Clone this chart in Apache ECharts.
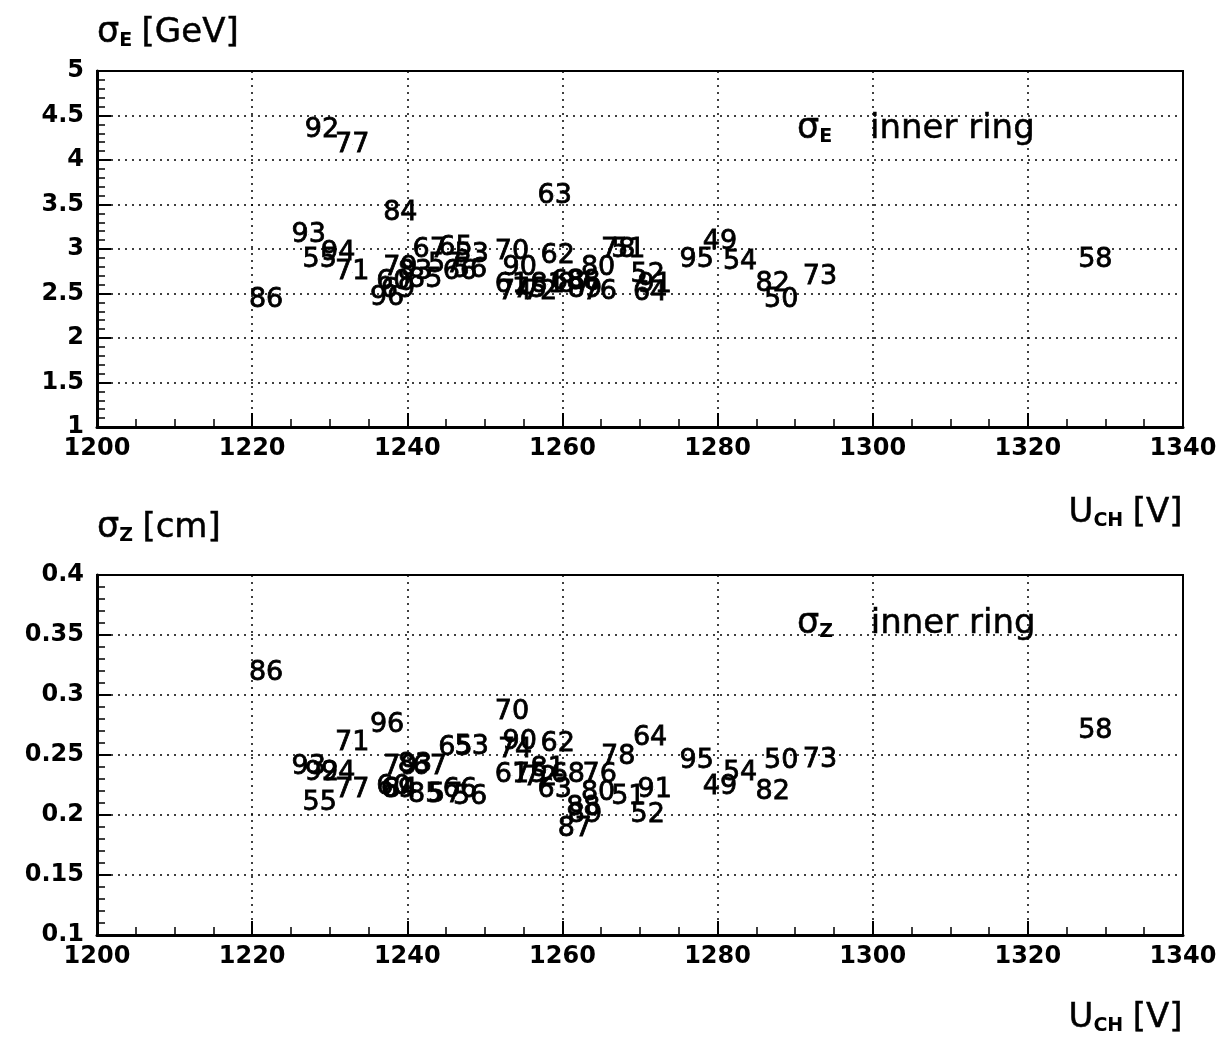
<!DOCTYPE html>
<html>
<head>
<meta charset="utf-8">
<script src="https://cdn.jsdelivr.net/npm/echarts@6/dist/echarts.min.js"></script>
<style>
html,body{margin:0;padding:0;background:#fff;}
#chart{width:1224px;height:1037px;}
</style>
</head>
<body>
<div id="chart"></div>
<script>
// Run numbers and their values (label centres)
const runs    = [49,50,51,52,53,54,55,56,57,58,60,61,62,63,64,65,66,67,68,69,70,71,72,73,74,75,76,77,78,79,80,81,82,83,84,85,86,87,88,89,90,91,92,93,94,95,96];
const voltage = [1280.3,1288.2,1268.5,1271.0,1248.3,1282.9,1228.7,1248.1,1244.9,1328.7,1238.2,1253.5,1259.4,1259.0,1271.3,1246.2,1246.8,1242.9,1260.7,1238.8,1253.5,1232.9,1257.1,1293.2,1253.9,1255.8,1264.8,1232.9,1267.2,1239.1,1264.6,1258.1,1287.1,1241.0,1239.1,1242.3,1221.8,1261.6,1262.7,1262.9,1254.5,1271.9,1229.0,1227.3,1231.1,1277.3,1237.4];
const sigmaE  = [3.08,2.43,2.99,2.71,2.93,2.85,2.88,2.76,2.82,2.88,2.63,2.60,2.92,3.60,2.51,3.01,2.74,2.99,2.63,2.54,2.97,2.74,2.52,2.69,2.52,2.54,2.52,4.17,2.99,2.79,2.79,2.60,2.61,2.74,3.40,2.65,2.43,2.60,2.63,2.54,2.79,2.60,4.34,3.16,2.96,2.88,2.45];
const sigmaZ  = [0.223,0.245,0.215,0.200,0.257,0.235,0.210,0.215,0.217,0.270,0.223,0.233,0.259,0.221,0.264,0.256,0.221,0.240,0.233,0.221,0.286,0.260,0.231,0.246,0.254,0.233,0.233,0.221,0.248,0.240,0.218,0.238,0.219,0.242,0.221,0.217,0.318,0.188,0.206,0.200,0.261,0.221,0.235,0.240,0.235,0.245,0.275];

const chart = echarts.init(document.getElementById('chart'), null, {renderer:'canvas'});

const GRID_L = 97, GRID_R = 41;
const tickFont = {color:'#000', fontFamily:'DejaVu Sans', fontWeight:'bold', fontSize:24};
function xAxisCfg(gi){
  return {
    gridIndex: gi, type:'value', min:1200, max:1340, interval:20,
    axisLine:{show:true, onZero:false, lineStyle:{color:'#000', width:3}},
    axisTick:{show:true, inside:true, length:14, lineStyle:{color:'#000', width:2}},
    minorTick:{show:true, splitNumber:4, length:8, lineStyle:{color:'#000', width:1.5}},
    axisLabel:Object.assign({margin:10, formatter:v=>String(v)}, tickFont),
    splitLine:{show:true, lineStyle:{color:'#000', type:[2,5], width:1.5}}
  };
}
function yAxisCfg(gi, mn, mx, iv){
  return {
    gridIndex: gi, type:'value', min:mn, max:mx, interval:iv,
    axisLine:{show:true, onZero:false, lineStyle:{color:'#000', width:3}},
    axisTick:{show:true, inside:true, length:14, lineStyle:{color:'#000', width:2}},
    minorTick:{show:true, splitNumber:5, length:8, lineStyle:{color:'#000', width:1.5}},
    axisLabel:Object.assign({margin:13}, tickFont),
    splitLine:{show:true, lineStyle:{color:'#000', type:[2,5], width:1.5}}
  };
}
const labelCfg = {show:true, position:'inside', formatter:'{b}', color:'#000', opacity:1, fontFamily:'DejaVu Sans', fontSize:27, fontWeight:'normal', textBorderColor:'#000', textBorderWidth:0.8};
const richT = {
  s:{fontFamily:'DejaVu Sans', fontSize:35, fontWeight:'normal', color:'#000', lineHeight:40, textBorderColor:'#000', textBorderWidth:0.5},
  sub:{fontFamily:'DejaVu Sans', fontSize:19, color:'#000', fontWeight:'bold', lineHeight:40, padding:[16,0,0,0]},
  n:{fontFamily:'DejaVu Sans', fontSize:34, fontWeight:'normal', color:'#000', lineHeight:40, textBorderColor:'#000', textBorderWidth:0.5}
};
function mkTitle(text, pos){
  return Object.assign({text:text, textStyle:{fontWeight:'normal', fontSize:34, rich:richT}}, pos);
}

chart.setOption({
  animation:false,
  backgroundColor:'#fff',
  title:[
    mkTitle('{s|σ}{sub|E} {n|[GeV]}', {left:92, top:8}),
    mkTitle('{n|U}{sub|CH} {n|[V]}', {right:36, top:488}),
    mkTitle('{s|σ}{sub|Z} {n|[cm]}', {left:92, top:503}),
    mkTitle('{n|U}{sub|CH} {n|[V]}', {right:36, top:993}),
    mkTitle('{s|σ}{sub|E}    {n|inner ring}', {left:792, top:104}),
    mkTitle('{s|σ}{sub|Z}    {n|inner ring}', {left:792, top:599})
  ],
  grid:[
    {left:GRID_L, right:GRID_R, top:71, height:356, show:true, borderColor:'#000', borderWidth:2, backgroundColor:'#fff'},
    {left:GRID_L, right:GRID_R, top:575, height:360, show:true, borderColor:'#000', borderWidth:2, backgroundColor:'#fff'}
  ],
  xAxis:[xAxisCfg(0), xAxisCfg(1)],
  yAxis:[yAxisCfg(0,1,5,0.5), yAxisCfg(1,0.1,0.4,0.05)],
  series:[
    {type:'scatter', xAxisIndex:0, yAxisIndex:0, symbol:'circle', symbolSize:0.5,
     itemStyle:{color:'#000', opacity:1}, label:labelCfg,
     data: runs.map((r,i)=>({name:String(r), value:[voltage[i], sigmaE[i]]}))},
    {type:'scatter', xAxisIndex:1, yAxisIndex:1, symbol:'circle', symbolSize:0.5,
     itemStyle:{color:'#000', opacity:1}, label:labelCfg,
     data: runs.map((r,i)=>({name:String(r), value:[voltage[i], sigmaZ[i]]}))}
  ]
});
</script>
</body>
</html>
